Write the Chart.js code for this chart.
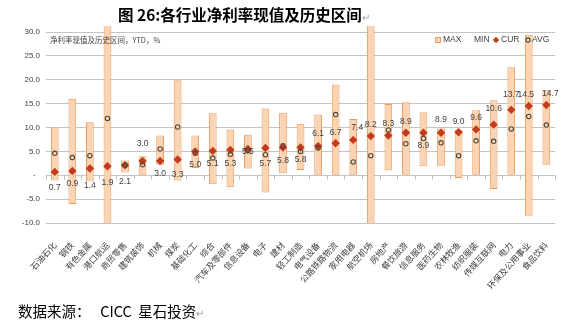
<!DOCTYPE html>
<html>
<head>
<meta charset="utf-8">
<script src="https://cdn.jsdelivr.net/npm/chart.js@4.4.1/dist/chart.umd.min.js"></script>
<style>
  html, body { margin: 0; padding: 0; background: #fff; }
  #wrap { position: relative; width: 563px; height: 322px; overflow: hidden; }
  #chart { position: absolute; left: 0; top: 0; }
  #title { position: absolute; left: 118px; top: 3px; font: bold 15.5px "Noto Sans CJK SC", sans-serif; color: #000; white-space: nowrap; line-height: 22px; z-index: 2; }
  #source { position: absolute; left: 18px; top: 301px; font: 14.5px "Noto Sans CJK SC", sans-serif; color: #000; white-space: nowrap; line-height: 20px; z-index: 2; }
  .pm { color: #9a9a9a; font-weight: normal; font-size: 10px; }
</style>
</head>
<body>
<div id="wrap">
  <div id="title">图 26:各行业净利率现值及历史区间<span class="pm">↵</span></div>
  <canvas id="chart" width="563" height="322"></canvas>
  <div id="source">数据来源：&nbsp;&nbsp; CICC&nbsp; 星石投资<span class="pm">↵</span></div>
</div>
<script>
// Industries, sorted by current net margin
const categories = ['石油石化', '钢铁', '有色金属', '港口航运', '商贸零售', '建筑装饰', '机械', '煤炭', '基础化工',
  '综合', '汽车及零部件', '信息设备', '电子', '建材', '轻工制造', '电气设备', '公路铁路物流', '家用电器',
  '航空机场', '房地产', '餐饮旅游', '信息服务', '医药生物', '农林牧渔', '纺织服装', '传媒互联网', '电力',
  '环保及公用事业', '食品饮料'];

// Historical maximum / minimum net margin, %
const maxValues = [10.0, 16.0, 11.1, 36.0, 3.1, 4.0, 8.3, 19.9, 8.3, 13.0, 9.6, 8.5, 14.0, 13.1, 10.8, 12.7,
  19.0, 11.8, 36.0, 14.9, 15.3, 13.2, 9.8, 9.5, 13.6, 15.7, 22.6, 29.4, 17.9];
const minValues = [-1.1, -6.0, -1.3, -12.0, 0.6, 0.0, 2.2, -1.1, 1.5, -1.9, -2.5, 1.4, -3.6, 0.4, 1.1, 0.0,
  0.0, 0.0, -12.0, 1.0, 0.0, 1.9, 2.0, -0.6, 0.0, -2.9, 0.0, -8.5, 2.2];
// Current (YTD) net margin, %
const curValues = [0.7, 0.9, 1.4, 1.9, 2.1, 3.0, 3.0, 3.3, 5.0, 5.1, 5.3, 5.5, 5.7, 5.8, 5.8, 6.1, 6.7, 7.4,
  8.2, 8.3, 8.9, 8.9, 8.9, 9.0, 9.6, 10.6, 13.7, 14.5, 14.7];
// Historical average net margin, %
const avgValues = [4.6, 3.7, 4.1, 11.9, 2.1, 2.2, 5.5, 10.1, 4.6, 3.6, 4.4, 5.2, 4.3, 6.2, 5.0, 5.7, 12.7, 2.8,
  4.1, 9.5, 6.6, 7.7, 6.8, 4.1, 7.2, 7.1, 9.7, 12.3, 10.5];

// Y axis ticks
const yTicks = [-10, -5, 0, 5, 10, 15, 20, 25, 30];

// Placement of the CUR value labels relative to the marker (px)
const labelDy = [16, 13, 17, 16, 16, -17, 13, 15, 13, 13, 14, 3, 16, 13, 12, -12, -11, -12, -11, -12, -11, 13,
  -13, -11, -12, -16, -15, -11, -11];
const labelDx = [0, 0, 0, 0, 0, 0, 0, 0, 0, 0, 0, 0, 0, 0, 0, 0, 0, 4, 0, 0, 0, 0, 0, 0, 0, 0, 0, -3, 4];

const ranges = minValues.map((lo, i) => [lo, maxValues[i]]);

const BAR_FILL = '#FAD4B3';
const BAR_EDGE = '#F09A5A';
const CUR_COLOR = '#C33A1C';
const AVG_COLOR = '#4a4a3c';
const TEXT = '#404040';

const overlay = {
  id: 'overlay',
  afterDatasetsDraw(chart) {
    const { ctx, chartArea: a, scales: { x, y } } = chart;
    ctx.save();

    // category tick marks hanging from the zero line
    const y0 = Math.round(y.getPixelForValue(0)) + 0.5;
    const step = (a.right - a.left) / categories.length;
    ctx.strokeStyle = '#BFBFBF';
    ctx.lineWidth = 1;
    ctx.beginPath();
    for (let i = 0; i <= categories.length; i++) {
      const px = Math.round(a.left + i * step) + 0.5;
      ctx.moveTo(px, y0);
      ctx.lineTo(px, y0 + 4);
    }
    ctx.stroke();

    // current value labels
    ctx.fillStyle = TEXT;
    ctx.font = '8.5px "Liberation Sans", Arial, sans-serif';
    ctx.textAlign = 'center';
    ctx.textBaseline = 'middle';
    curValues.forEach((v, i) => {
      const px = x.getPixelForValue(i) + labelDx[i];
      const py = y.getPixelForValue(v) + labelDy[i];
      ctx.fillText(v.toFixed(1), px, py);
    });

    // caption inside the plot
    ctx.textAlign = 'left';
    ctx.font = '7.5px "Noto Sans CJK SC", sans-serif';
    ctx.fillText('净利率现值及历史区间，YTD，%', 50, 40);

    // legend
    const ly = 40;
    ctx.font = '8.5px "Liberation Sans", Arial, sans-serif';
    ctx.fillStyle = BAR_FILL;
    ctx.strokeStyle = BAR_EDGE;
    ctx.fillRect(435.5, ly - 2.5, 5, 5);
    ctx.strokeRect(435.5, ly - 2.5, 5, 5);
    ctx.fillStyle = TEXT;
    ctx.fillText('MAX', 443, ly);
    ctx.fillText('MIN', 474, ly);
    ctx.fillStyle = CUR_COLOR;
    ctx.beginPath();
    ctx.moveTo(496, ly - 3.2); ctx.lineTo(499.2, ly); ctx.lineTo(496, ly + 3.2); ctx.lineTo(492.8, ly);
    ctx.closePath();
    ctx.fill();
    ctx.fillStyle = TEXT;
    ctx.fillText('CUR', 501, ly);
    ctx.strokeStyle = AVG_COLOR;
    ctx.lineWidth = 1.1;
    ctx.beginPath();
    ctx.arc(528, ly, 2.1, 0, Math.PI * 2);
    ctx.stroke();
    ctx.fillText('AVG', 532, ly);

    ctx.restore();
  }
};

new Chart(document.getElementById('chart'), {
  type: 'bar',
  data: {
    labels: categories,
    datasets: [
      {
        type: 'line', label: 'AVG', data: avgValues, showLine: false,
        pointStyle: 'circle', pointRadius: 2.2, pointBorderWidth: 1.1,
        pointBorderColor: AVG_COLOR, pointBackgroundColor: 'rgba(255,255,255,0)', order: 0
      },
      {
        type: 'line', label: 'CUR', data: curValues, showLine: false,
        pointStyle: 'rectRot', pointRadius: 4.2, pointBorderWidth: 0,
        pointBorderColor: CUR_COLOR, pointBackgroundColor: CUR_COLOR, order: 1
      },
      {
        type: 'bar', label: 'MAX', data: ranges,
        backgroundColor: BAR_FILL, borderColor: BAR_EDGE, borderWidth: 1, borderSkipped: false,
        categoryPercentage: 0.44, barPercentage: 1,
        clip: { left: 0, top: 6, right: 0, bottom: 0 }, order: 2
      }
    ]
  },
  options: {
    responsive: false,
    animation: false,
    devicePixelRatio: 1,
    events: [],
    layout: { padding: { top: 32, left: 0, right: 5, bottom: 0 } },
    plugins: { legend: { display: false }, tooltip: { enabled: false }, title: { display: false } },
    scales: {
      x: {
        grid: { display: false },
        border: { display: false },
        ticks: {
          autoSkip: false, maxRotation: 48, minRotation: 48, padding: 9, color: TEXT,
          font: { family: '"Noto Sans CJK SC", sans-serif', size: 8.5 }
        },
        afterFit(scale) { scale.height = 99; }
      },
      y: {
        min: -10, max: 30,
        afterBuildTicks(scale) { scale.ticks = yTicks.map(v => ({ value: v })); },
        ticks: {
          padding: 6, color: TEXT,
          font: { family: '"Liberation Sans", Arial, sans-serif', size: 8 },
          callback: v => (v === 0 ? '-  ' : v.toFixed(1))
        },
        grid: { color: '#C4C4C4', lineWidth: 1, drawTicks: false },
        border: { display: false },
        afterFit(scale) { scale.width = 46; }
      }
    }
  },
  plugins: [overlay]
});
</script>
</body>
</html>
